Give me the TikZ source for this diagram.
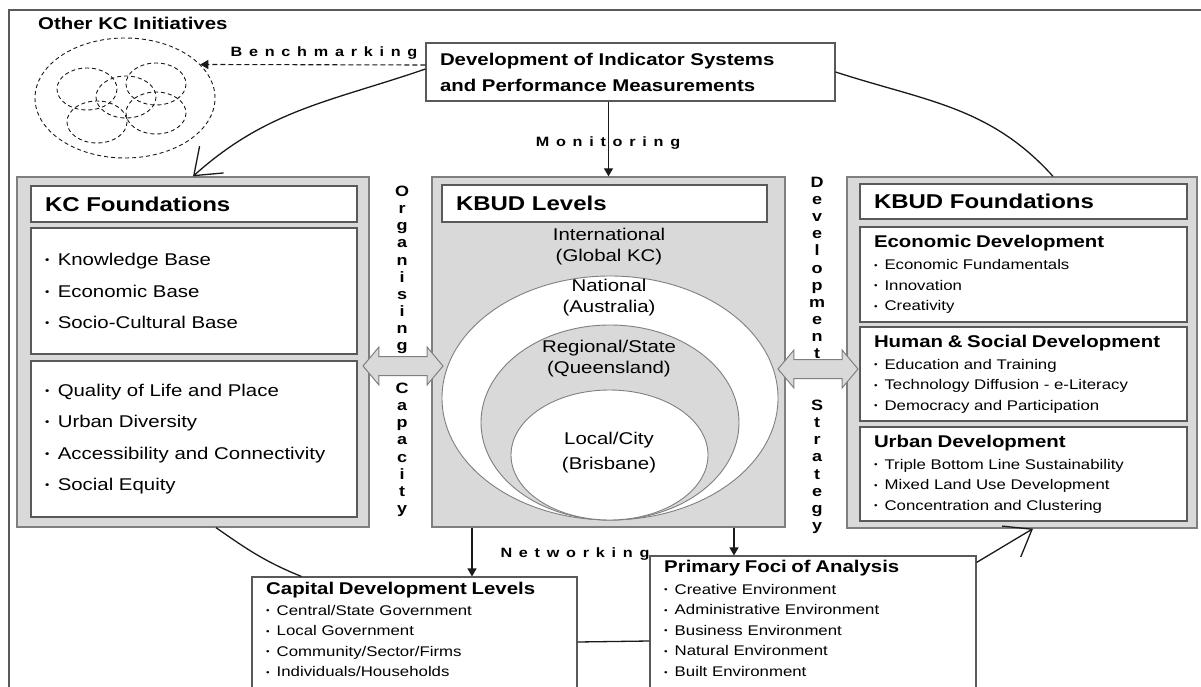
\documentclass[tikz,border=0pt]{standalone}
\usepackage{fontspec}
\usepackage{graphicx}
\setmainfont{Liberation Sans}[FakeStretch=1.2]
\newfontfamily\spacedfont{Liberation Sans}[LetterSpace=50,FakeStretch=1.2]
\usepackage{tikz}
\usetikzlibrary{arrows.meta, positioning, shapes.geometric, shapes.arrows}
\definecolor{kfill}{HTML}{D9D9D9}
\definecolor{kline}{HTML}{7F7F7F}
\definecolor{kdark}{HTML}{595959}
\definecolor{kink}{HTML}{1A1A1A}
\newcommand{\bigfont}{\fontsize{20}{24}\selectfont\bfseries}
\newcommand{\headfont}{\fontsize{17}{26}\selectfont\bfseries}
\newcommand{\kcfont}{\fontsize{17}{31.5}\selectfont}
\newcommand{\itemfont}{\fontsize{14}{20.6}\selectfont}
\newcommand{\flowfont}{\fontsize{13.5}{15}\selectfont\spacedfont\bfseries}
\newcommand{\bul}{\raisebox{0.1em}{\scalebox{0.6}{\textbullet}}\hspace{0.5em}}
\tikzset{
  graybox/.style={draw=kline, fill=kfill, line width=1.3pt, inner sep=0pt},
  whitebox/.style={draw=kdark, fill=white, line width=1.1pt, inner xsep=14pt,
                   inner ysep=0pt, align=left},
  lvellipse/.style={ellipse, draw=kline, line width=0.9pt, inner sep=0pt},
  lvtext/.style={font=\fontsize{17}{21}\selectfont, align=center, inner sep=0pt},
  itemtext/.style={font=\itemfont, align=left, text width=300pt, anchor=north west, inner sep=0pt},
  fatarrow/.style={double arrow, draw=kline, fill=kfill, line width=1pt, inner xsep=0pt,
                   inner ysep=9pt, minimum height=80pt, double arrow head extend=9.5pt,
                   double arrow tip angle=100},
  flowlabel/.style={font=\flowfont, inner sep=0pt, anchor=base},
  vertlabel/.style={font=\fontsize{15}{17.1}\selectfont\bfseries, align=center,
                    inner sep=0pt, anchor=north},
  cluster/.style={draw=kink, dashed, dash pattern=on 4pt off 3pt, line width=0.9pt},
  arr/.style={-{Triangle[length=8pt,width=9pt]}, line width=1.1pt, kink},
  dasharr/.style={arr, dash pattern=on 5pt off 3pt},
  circ/.style={line width=1.3pt, kink},
  circarr/.style={circ, -{Straight Barb[length=24pt,width=36pt]}},
}
\begin{document}
\begin{tikzpicture}[x=1pt, y=-1pt]
    \useasboundingbox (0,0) rectangle (1201,687);
    \clip (0,0) rectangle (1201,687);
    \fill[white] (0,0) rectangle (1201,687);
    \draw[kdark, line width=1.2pt] (9,687) -- (9,10) -- (1201,10);

    % other initiatives
    \node[font=\headfont, anchor=base west, inner sep=0pt] (othertitle) at (38,29.5) {Other KC Initiatives};
    \node[cluster, ellipse, minimum width=180pt, minimum height=120pt, inner sep=0pt] (others) at (125,98) {};
    \foreach \ex/\ey in {87/89, 126/97, 156/84, 97/122, 156/113}
      \draw[cluster] (\ex,\ey) ellipse (30 and 21);

    \node[whitebox, font=\headfont, text width=381pt, minimum height=58pt] (indic) at (630.5,72)
      {Development of Indicator Systems\\and Performance Measurements};

    % three panels
    \node[graybox, minimum width=352pt, minimum height=350pt] (kcfound) at (193,352) {};
    \node[graybox, minimum width=353pt, minimum height=350pt] (levels) at (608.5,352) {};
    \node[graybox, minimum width=350pt, minimum height=351pt] (kbudf) at (1022,352.5) {};

    \node[whitebox, font=\bigfont, text width=298pt, minimum height=36pt] (kctitle) at (194,204) {KC Foundations};
    \node[whitebox, font=\kcfont, text width=298pt, minimum height=126pt] (kcbase) at (194,291)
      {\bul Knowledge Base\\\bul Economic Base\\\bul Socio-Cultural Base};
    \node[whitebox, font=\kcfont, text width=298pt, minimum height=156pt] (kcqual) at (194,439)
      {\bul Quality of Life and Place\\\bul Urban Diversity\\\bul Accessibility and Connectivity\\\bul Social Equity};

    \node[whitebox, font=\bigfont, text width=297pt, minimum height=37pt] (lvtitle) at (604.5,203.5) {KBUD Levels};
    \node[lvellipse, fill=white, minimum width=336pt, minimum height=244pt] (natl) at (610,398) {};
    \node[lvellipse, fill=kfill, minimum width=258pt, minimum height=195pt] (regl) at (610,422.5) {};
    \node[lvellipse, fill=white, minimum width=197pt, minimum height=130pt] (locl) at (609.5,455) {};
    \node[lvtext] (intltxt) at (609,247) {International\\(Global KC)};
    \node[lvtext] (natltxt) at (609,298) {National\\(Australia)};
    \node[lvtext] (regltxt) at (609,359) {Regional/State\\(Queensland)};
    \node[lvtext, font=\fontsize{17}{25}\selectfont] (locltxt) at (609,453) {Local/City\\(Brisbane)};

    \node[whitebox, font=\bigfont, text width=299pt, minimum height=35pt] (kftitle) at (1023.5,201.5) {KBUD Foundations};
    \node[whitebox, font=\itemfont, text width=299pt, minimum height=95pt] (econ) at (1023.5,274.5)
      {{\headfont Economic Development}\\[1.4pt]\bul Economic Fundamentals\\\bul Innovation\\\bul Creativity};
    \node[whitebox, font=\itemfont, text width=299pt, minimum height=94pt] (human) at (1023.5,374)
      {{\headfont Human \& Social Development}\\[1.4pt]\bul Education and Training\\\bul Technology Diffusion - e-Literacy\\\bul Democracy and Participation};
    \node[whitebox, font=\itemfont, text width=299pt, minimum height=94pt] (urban) at (1023.5,474)
      {{\headfont Urban Development}\\[1.4pt]\bul Triple Bottom Line Sustainability\\\bul Mixed Land Use Development\\\bul Concentration and Clustering};

    % bottom boxes
    \node[whitebox, minimum width=325pt, minimum height=130pt] (capital) at (414.5,642) {};
    \node[itemtext] (capitaltxt) at (266,581.6)
      {{\headfont Capital Development Levels}\\[0.4pt]\bul Central/State Government\\\bul Local Government\\\bul Community/Sector/Firms\\\bul Individuals/Households};
    \node[whitebox, minimum width=326pt, minimum height=170pt] (primary) at (813,641) {};
    \node[itemtext] (primarytxt) at (664,559.6)
      {{\headfont Primary Foci of Analysis}\\[1.4pt]\bul Creative Environment\\\bul Administrative Environment\\\bul Business Environment\\\bul Natural Environment\\\bul Built Environment};

    \node[fatarrow] (leftlink) at (403,366) {};
    \node[fatarrow] (rightlink) at (818,369) {};

    \node[vertlabel] (organising) at (402,186) {O\\r\\g\\a\\n\\i\\s\\i\\n\\g};
    \node[vertlabel] (capacity) at (402,383) {C\\a\\p\\a\\c\\i\\t\\y};
    \node[vertlabel] (development) at (817,177) {D\\e\\v\\e\\l\\o\\p\\m\\e\\n\\t};
    \node[vertlabel] (strategy) at (817,400) {S\\t\\r\\a\\t\\e\\g\\y};

    \node[flowlabel] (benchlbl) at (324,57) {Benchmarking};
    \node[flowlabel] (monitorlbl) at (608,147) {Monitoring};
    \node[flowlabel] (netlbl) at (575,557) {Networking};

    % links
    \draw[dasharr] ([yshift=7pt]indic.west) -- (others.24);
    \draw[arr] (levels.north |- indic.south) -- (levels.north);
    \draw[arr] ([xshift=-136.5pt]levels.south) -- ([xshift=-136.5pt]levels.south |- capital.north);
    \draw[arr] ([xshift=125.5pt]levels.south) -- ([xshift=125.5pt]levels.south |- primary.north);

    % the cycle round the panels
    \draw[circarr] ([yshift=3pt]indic.west) to[out=199, in=42] (kcfound.north);
    \draw[circ] (indic.east) to[out=-18, in=132] ([xshift=31pt]kbudf.north);
    \draw[circ] ([xshift=23pt]kcfound.south) to[out=-35, in=158] ([xshift=50pt]capital.north west);
    \draw[circ] (capital.east) -- (primary.west);
    \draw[circarr] ([yshift=-7pt]primary.north east) -- ([xshift=11pt]kbudf.south);
  \end{tikzpicture}
\end{document}
